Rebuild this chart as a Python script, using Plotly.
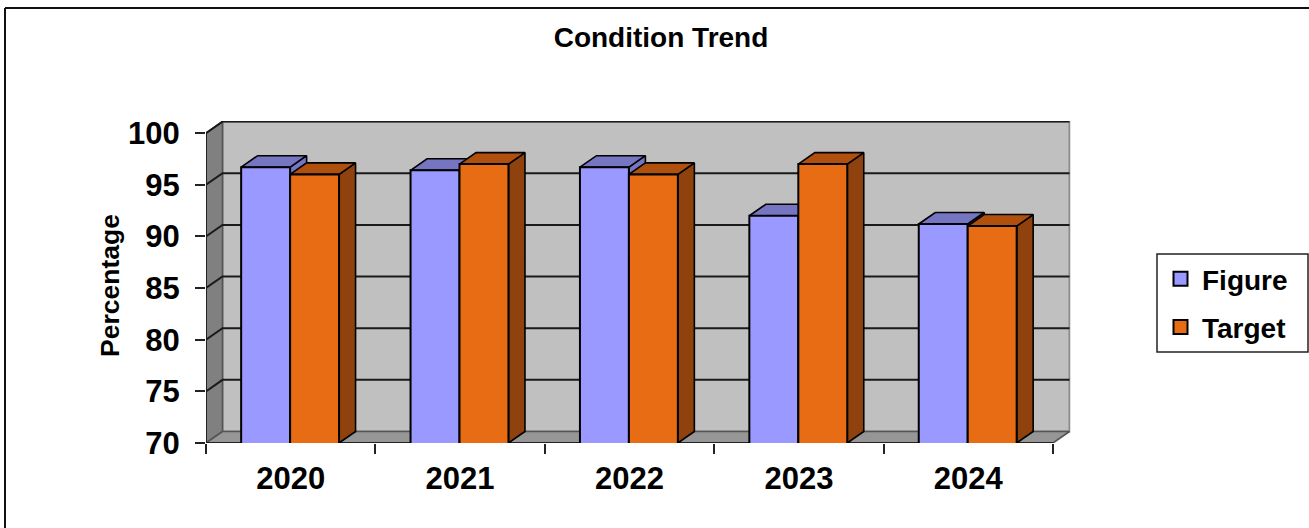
import plotly.graph_objects as go

# ---- data ----
years = ["2020", "2021", "2022", "2023", "2024"]
figure_values = [96.7, 96.4, 96.7, 92.0, 91.2]
target_values = [96.0, 97.0, 96.0, 97.0, 91.0]
y_ticks = [70, 75, 80, 85, 90, 95, 100]

# ---- layout constants (pixels of the 1309x528 page) ----
W, H = 1309, 528
PX_LEFT, PX_RIGHT, PX_TOP, PX_BOTTOM = 206.0, 1070.5, 121.0, 443.0
PX_PER_CAT = 169.4
PX_PER_UNIT = 10.33
DEPTH_X = 16.5 / PX_PER_CAT
DEPTH_Y = 11.5 / PX_PER_UNIT
BAR_W = 0.289
OFFSETS = (0.352, 0.641)
Y0, Y1 = y_ticks[0], y_ticks[-1]
N = len(years)
FONT = "Liberation Sans"

COL_FIG, COL_FIG_DARK = "#9999FF", "#7575C2"
COL_TGT, COL_TGT_TOP, COL_TGT_SIDE = "#E86C14", "#B0500F", "#8F420D"
COL_WALL, COL_LEFT, COL_FLOOR = "#C0C0C0", "#808080", "#969696"

fig = go.Figure()


def poly(xs, ys, fill, line="#000000", lw=1.6):
    fig.add_trace(go.Scatter(x=xs, y=ys, mode="lines", fill="toself", fillcolor=fill,
                             line=dict(color=line, width=lw), hoverinfo="skip",
                             showlegend=False, cliponaxis=False))


# walls and floor
poly([DEPTH_X, N + DEPTH_X, N + DEPTH_X, DEPTH_X, DEPTH_X],
     [Y0 + DEPTH_Y, Y0 + DEPTH_Y, Y1 + DEPTH_Y, Y1 + DEPTH_Y, Y0 + DEPTH_Y], COL_WALL, "#8a8a8a", 2)
poly([0, DEPTH_X, DEPTH_X, 0, 0], [Y0, Y0 + DEPTH_Y, Y1 + DEPTH_Y, Y1, Y0], COL_LEFT, "#555555", 1.6)
poly([0, N, N + DEPTH_X, DEPTH_X, 0], [Y0, Y0, Y0 + DEPTH_Y, Y0 + DEPTH_Y, Y0], COL_FLOOR, "#555555", 1.6)

# gridlines on the side wall and back wall
gx, gy = [], []
for v in y_ticks[1:]:
    gx += [0, DEPTH_X, N + DEPTH_X, None]
    gy += [v, v + DEPTH_Y, v + DEPTH_Y, None]
fig.add_trace(go.Scatter(x=gx, y=gy, mode="lines", line=dict(color="#1a1a1a", width=2),
                         hoverinfo="skip", showlegend=False, cliponaxis=False))

# y axis line and front floor line
fig.add_trace(go.Scatter(x=[0, 0, N], y=[Y1, Y0, Y0], mode="lines",
                         line=dict(color="#222222", width=2), hoverinfo="skip",
                         showlegend=False, cliponaxis=False))

# depth faces of the bars, back to front
for i in range(N):
    for off, vals, top_col, side_col in (
        (OFFSETS[0], figure_values, COL_FIG_DARK, COL_FIG_DARK),
        (OFFSETS[1], target_values, COL_TGT_TOP, COL_TGT_SIDE),
    ):
        v = vals[i]
        xl = i + off - BAR_W / 2
        xr = i + off + BAR_W / 2
        poly([xr, xr + DEPTH_X, xr + DEPTH_X, xr, xr],
             [Y0, Y0 + DEPTH_Y, v + DEPTH_Y, v, Y0], side_col)
        poly([xl, xr, xr + DEPTH_X, xl + DEPTH_X, xl],
             [v, v, v + DEPTH_Y, v + DEPTH_Y, v], top_col)

# front faces as real bars, on an overlaying axis pair so they sit over the depth faces
fig.add_trace(go.Bar(x=[i + OFFSETS[0] for i in range(N)], y=figure_values, width=BAR_W,
                     marker=dict(color=COL_FIG, line=dict(color="#000000", width=2)),
                     name="Figure", showlegend=False, xaxis="x2", yaxis="y2"))
fig.add_trace(go.Bar(x=[i + OFFSETS[1] for i in range(N)], y=target_values, width=BAR_W,
                     marker=dict(color=COL_TGT, line=dict(color="#000000", width=2)),
                     name="Target", showlegend=False, xaxis="x2", yaxis="y2"))

# legend entries
for name, col in (("Figure", COL_FIG), ("Target", COL_TGT)):
    fig.add_trace(go.Scatter(x=[None], y=[None], mode="markers", name=name, legendgroup=name,
                             marker=dict(symbol="square", size=14, color=col,
                                         line=dict(color="#000000", width=2))))

x_range = [0, (PX_RIGHT - PX_LEFT) / PX_PER_CAT]
y_range = [Y0, Y0 + (PX_BOTTOM - PX_TOP) / PX_PER_UNIT]
x_dom = [PX_LEFT / W, PX_RIGHT / W]
y_dom = [1 - PX_BOTTOM / H, 1 - PX_TOP / H]

fig.update_layout(
    width=W, height=H, margin=dict(l=0, r=0, t=0, b=0, pad=0, autoexpand=False),
    paper_bgcolor="white", plot_bgcolor="rgba(0,0,0,0)",
    barmode="overlay",
    font=dict(family=FONT, color="#000000"),
    title=dict(text="<b>Condition Trend</b>", x=661 / W, xanchor="center", xref="paper",
               y=1 - 37 / H, yanchor="middle", yref="paper", font=dict(size=28, family=FONT)),
    xaxis=dict(domain=x_dom, range=x_range, showgrid=False, zeroline=False, showline=False,
               tickmode="array", tickvals=[i + 0.5 for i in range(N)], ticktext=years,
               ticks="outside", ticklen=8, tickcolor="rgba(0,0,0,0)",
               tickfont=dict(size=31, family=FONT, weight="bold"),
               minor=dict(tickmode="array", tickvals=list(range(N + 1)), ticks="outside",
                          ticklen=10, tickcolor="#222222", tickwidth=1.5, showgrid=False)),
    yaxis=dict(domain=y_dom, range=y_range, showgrid=False, zeroline=False, showline=False,
               tickmode="array", tickvals=y_ticks, ticks="outside", ticklen=10,
               tickcolor="#222222", tickwidth=1.5, ticklabelstandoff=9,
               tickfont=dict(size=31, family=FONT, weight="bold")),
    xaxis2=dict(domain=x_dom, range=x_range, overlaying="x", visible=False, anchor="y2"),
    yaxis2=dict(domain=y_dom, range=y_range, overlaying="y", visible=False, anchor="x2"),
    legend=dict(x=1159 / W, y=1 - 254 / H, xanchor="left", yanchor="top",
                bgcolor="rgba(0,0,0,0)", borderwidth=0,
                font=dict(size=28, family=FONT, weight="bold"),
                traceorder="grouped", tracegroupgap=9, itemwidth=33),
    shapes=[
        dict(type="line", xref="paper", yref="paper", x0=5 / W, x1=1, y0=1 - 8 / H, y1=1 - 8 / H,
             line=dict(color="#111111", width=2)),
        dict(type="line", xref="paper", yref="paper", x0=5 / W, x1=5 / W, y0=1 - 8 / H, y1=0,
             line=dict(color="#111111", width=2)),
        dict(type="rect", xref="paper", yref="paper", x0=1157 / W, x1=1308 / W,
             y0=1 - 352 / H, y1=1 - 254 / H, fillcolor="white",
             line=dict(color="#222222", width=1.5)),
    ],
    annotations=[
        dict(text="<b>Percentage</b>", xref="paper", yref="paper", x=110 / W, y=1 - 286 / H,
             textangle=-90, showarrow=False, font=dict(size=26.5, family=FONT),
             xanchor="center", yanchor="middle"),
    ],
)

fig.write_html("out.html", config=dict(displayModeBar=False),
               post_script="document.body.style.margin='0';")
